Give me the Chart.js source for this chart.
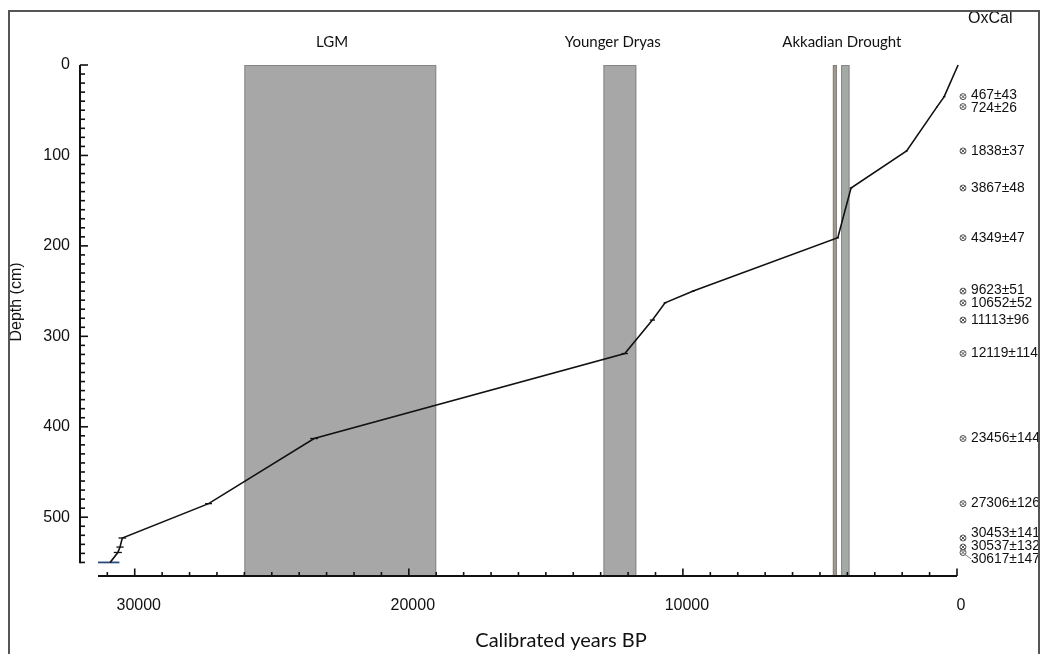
<!DOCTYPE html>
<html>
<head>
<meta charset="utf-8">
<script src="https://cdn.jsdelivr.net/npm/chart.js@4.4.0/dist/chart.umd.min.js"></script>
<style>
  body { margin: 0; background: #fff; }
  canvas { display: block; }
</style>
</head>
<body>
<canvas id="mycanvas" width="1040" height="654"></canvas>
<script>
// dated samples (OxCal), calibrated years BP, 1 sigma, depth in cm
var dateAge   = [467, 724, 1838, 3867, 4349, 9623, 10652, 11113, 12119, 23456, 27306, 30453, 30537, 30617];
var dateErr   = [43, 26, 37, 48, 47, 51, 52, 96, 114, 144, 126, 141, 132, 147];
var dateDepth = [35, 46, 95, 136, 191, 250, 263, 282, 319, 413, 485, 523, 533, 539];

// age-depth model ends (top of core, base of core)
var topAge = -40, topDepth = 0;
var baseAge = 30900, baseDepth = 550;
var baseLineAges = [31340, 30560];

// climate events
var eventNames = ['LGM', 'Younger Dryas', 'Akkadian Drought'];
var eventLabelAge = [22800, 12560, 4200];
var bandStart = [26000, 12900, 4530, 4230];
var bandEnd   = [19000, 11700, 4380, 3920];
var bandFill  = ['#a7a7a7', '#a7a7a7', '#a19b8f', '#a3aaa3'];

var xTicks = [0, 10000, 20000, 30000];
var yTicks = [0, 100, 200, 300, 400, 500];
var yAxisEnd = 551;

var curve = [{x: topAge, y: topDepth}];
for (var i = 0; i < dateAge.length; i++) {
  curve.push({x: dateAge[i], y: dateDepth[i]});
}
curve.push({x: baseAge, y: baseDepth});

var baseLine = [];
for (var i in baseLineAges) baseLine.push({x: baseLineAges[i], y: baseDepth});

var sans = '"Liberation Sans", Arial, sans-serif';
var label = 'Lato, "Open Sans", sans-serif';

var extras = {
  id: 'extras',
  beforeDatasetsDraw: function(chart) {
    var ctx = chart.ctx, xs = chart.scales.x, ys = chart.scales.y;
    var a = chart.chartArea;
    ctx.save();
    // event bands
    for (var i = 0; i < bandStart.length; i++) {
      var x1 = xs.getPixelForValue(bandStart[i]);
      var x2 = xs.getPixelForValue(bandEnd[i]);
      var y1 = ys.getPixelForValue(0);
      ctx.fillStyle = bandFill[i];
      ctx.fillRect(x1, y1, x2 - x1, a.bottom - y1);
      ctx.strokeStyle = 'rgba(110,110,110,0.6)';
      ctx.lineWidth = 1;
      ctx.strokeRect(x1 + 0.5, y1 + 0.5, x2 - x1 - 1, a.bottom - y1);
    }
    ctx.restore();
  },
  afterDatasetsDraw: function(chart) {
    var ctx = chart.ctx, xs = chart.scales.x, ys = chart.scales.y;
    var a = chart.chartArea;
    ctx.save();

    // error bars
    ctx.strokeStyle = '#111';
    ctx.lineWidth = 1.3;
    for (var i = 0; i < dateAge.length; i++) {
      var py = ys.getPixelForValue(dateDepth[i]);
      ctx.beginPath();
      ctx.moveTo(xs.getPixelForValue(dateAge[i] + dateErr[i]), py);
      ctx.lineTo(xs.getPixelForValue(dateAge[i] - dateErr[i]), py);
      ctx.stroke();
    }

    // y axis (OxCal style, offset to the left)
    var ax = a.left - 18;
    ctx.strokeStyle = '#111';
    ctx.lineWidth = 2;
    ctx.beginPath();
    ctx.moveTo(ax, ys.getPixelForValue(0));
    ctx.lineTo(ax, ys.getPixelForValue(yAxisEnd));
    ctx.stroke();
    ctx.lineWidth = 1.6;
    for (var d = 0; d <= yAxisEnd; d += 10) {
      var ty = ys.getPixelForValue(d);
      ctx.beginPath();
      ctx.moveTo(ax, ty);
      ctx.lineTo(ax + (d % 100 === 0 ? 8 : 5), ty);
      ctx.stroke();
    }

    // x axis
    ctx.lineWidth = 2;
    ctx.beginPath();
    ctx.moveTo(a.left, a.bottom);
    ctx.lineTo(a.right, a.bottom);
    ctx.stroke();
    ctx.lineWidth = 1.6;
    for (var t = 0; t <= xs.max; t += 1000) {
      var tx = xs.getPixelForValue(t);
      ctx.beginPath();
      ctx.moveTo(tx, a.bottom);
      ctx.lineTo(tx, a.bottom - (t % 10000 === 0 ? 7.5 : 4));
      ctx.stroke();
    }

    // event names
    ctx.fillStyle = '#111';
    ctx.font = '15px ' + label;
    ctx.textAlign = 'center';
    ctx.textBaseline = 'middle';
    for (var i = 0; i < eventNames.length; i++) {
      ctx.fillText(eventNames[i], xs.getPixelForValue(eventLabelAge[i]), 42);
    }

    // axis titles
    ctx.font = '20px ' + label;
    ctx.fillText('Calibrated years BP', 561, 641);
    ctx.save();
    ctx.translate(17, 302);
    ctx.rotate(-Math.PI / 2);
    ctx.font = '16px ' + sans;
    ctx.fillText('Depth (cm)', 0, 0);
    ctx.restore();

    // OxCal date list
    ctx.textAlign = 'left';
    ctx.font = '16px ' + sans;
    ctx.fillText('OxCal', 968, 19);

    var my = dateDepth.map(function(d) { return ys.getPixelForValue(d); });
    // spread overlapping labels around their group centre
    var gap = 13, groups = [];
    for (var i = 0; i < my.length; i++) groups.push({s: i, e: i, c: my[i]});
    var merged = true;
    while (merged) {
      merged = false;
      for (var g = 0; g < groups.length - 1; g++) {
        var A = groups[g], B = groups[g + 1];
        var aEnd = A.c + (A.e - A.s) * gap / 2;
        var bStart = B.c - (B.e - B.s) * gap / 2;
        if (bStart - aEnd < gap - 0.01) {
          var s = A.s, e = B.e, sum = 0;
          for (var k = s; k <= e; k++) sum += my[k];
          groups.splice(g, 2, {s: s, e: e, c: sum / (e - s + 1)});
          merged = true;
          break;
        }
      }
    }
    var ly = [];
    groups.forEach(function(G) {
      var n = G.e - G.s + 1;
      for (var k = 0; k < n; k++) ly[G.s + k] = G.c + (k - (n - 1) / 2) * gap;
    });

    var mx = a.right + 6;
    ctx.font = '13.8px ' + sans;
    for (var i = 0; i < dateAge.length; i++) {
      // marker: circle with a cross
      ctx.strokeStyle = '#555';
      ctx.lineWidth = 1;
      ctx.beginPath();
      ctx.arc(mx, my[i], 3, 0, Math.PI * 2);
      ctx.moveTo(mx - 2.1, my[i] - 2.1); ctx.lineTo(mx + 2.1, my[i] + 2.1);
      ctx.moveTo(mx + 2.1, my[i] - 2.1); ctx.lineTo(mx - 2.1, my[i] + 2.1);
      ctx.stroke();
      if (ly[i] - my[i] > 5) {
        ctx.strokeStyle = '#888';
        ctx.beginPath();
        ctx.moveTo(mx + 2, my[i] + 2);
        ctx.lineTo(mx + 8, ly[i]);
        ctx.stroke();
      }
      ctx.fillStyle = '#111';
      ctx.fillText(dateAge[i] + '\u00b1' + dateErr[i], mx + 8, ly[i]);
    }

    // frame
    ctx.strokeStyle = '#555';
    ctx.lineWidth = 2;
    ctx.strokeRect(9, 11, 1030, 660);
    ctx.restore();
  }
};

var ctx = document.getElementById('mycanvas');
var chart = new Chart(ctx, {
  type: 'scatter',
  data: {
    datasets: [
      {
        label: 'Age-depth model',
        data: curve,
        showLine: true,
        borderColor: '#111',
        borderWidth: 1.6,
        pointRadius: 0,
        clip: false
      },
      {
        label: 'Base',
        data: baseLine,
        showLine: true,
        borderColor: '#2b4b7c',
        borderWidth: 1.8,
        pointRadius: 0,
        clip: false
      }
    ]
  },
  options: {
    responsive: false,
    animation: false,
    devicePixelRatio: 1,
    layout: { padding: { top: 65, right: 83, left: 0, bottom: 0 } },
    plugins: { legend: { display: false }, tooltip: { enabled: false } },
    scales: {
      x: {
        type: 'linear',
        reverse: true,
        min: 0,
        max: 31340,
        afterFit: function(s) { s.height = 78; },
        afterBuildTicks: function(s) { s.ticks = xTicks.map(function(v) { return {value: v}; }); },
        grid: { display: false, drawTicks: false },
        border: { display: false },
        ticks: {
          color: '#111', padding: 20, labelOffset: 4,
          font: { family: sans, size: 16 },
          callback: function(v) { return String(v); }
        }
      },
      y: {
        type: 'linear',
        reverse: true,
        min: 0,
        max: 565,
        afterFit: function(s) { s.width = 98; },
        afterBuildTicks: function(s) { s.ticks = yTicks.map(function(v) { return {value: v}; }); },
        grid: { display: false, drawTicks: false },
        border: { display: false },
        ticks: {
          color: '#111', padding: 28,
          font: { family: sans, size: 16 },
          callback: function(v) { return String(v); }
        }
      }
    }
  },
  plugins: [extras]
});
</script>
</body>
</html>
